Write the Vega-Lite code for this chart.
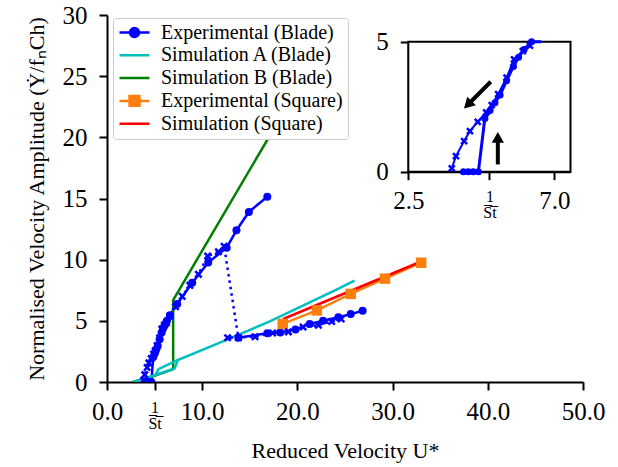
{
  "$schema": "https://vega.github.io/schema/vega-lite/v6.json",
  "width": 476,
  "height": 367,
  "autosize": {"type": "none"},
  "padding": {"left": 107, "top": 15, "right": 35, "bottom": 85},
  "background": "white",
  "config": {
    "view": {"stroke": null},
    "axis": {
      "grid": false,
      "domainColor": "black",
      "domainWidth": 2,
      "tickColor": "black",
      "tickWidth": 2,
      "tickSize": 8,
      "labelFont": "Liberation Serif",
      "labelFontSize": 25,
      "labelColor": "black",
      "titleFont": "Liberation Serif",
      "titleFontSize": 22,
      "titleFontWeight": "normal",
      "titleColor": "black"
    }
  },
  "datasets": {
    "lines": [
      {"series": "Experimental (Blade)", "grp": "up", "seq": 1, "x": 4.2, "y": 0},
      {"series": "Experimental (Blade)", "grp": "up", "seq": 2, "x": 4.35, "y": 0},
      {"series": "Experimental (Blade)", "grp": "up", "seq": 3, "x": 4.5, "y": 0},
      {"series": "Experimental (Blade)", "grp": "up", "seq": 4, "x": 4.66, "y": 0},
      {"series": "Experimental (Blade)", "grp": "up", "seq": 5, "x": 4.86, "y": 2.05},
      {"series": "Experimental (Blade)", "grp": "up", "seq": 6, "x": 5.02, "y": 2.35},
      {"series": "Experimental (Blade)", "grp": "up", "seq": 7, "x": 5.17, "y": 2.65},
      {"series": "Experimental (Blade)", "grp": "up", "seq": 8, "x": 5.33, "y": 2.95},
      {"series": "Experimental (Blade)", "grp": "up", "seq": 9, "x": 5.53, "y": 3.5},
      {"series": "Experimental (Blade)", "grp": "up", "seq": 10, "x": 5.74, "y": 4.05},
      {"series": "Experimental (Blade)", "grp": "up", "seq": 11, "x": 5.9, "y": 4.4},
      {"series": "Experimental (Blade)", "grp": "up", "seq": 12, "x": 6.07, "y": 4.7},
      {"series": "Experimental (Blade)", "grp": "up", "seq": 13, "x": 6.3, "y": 5.0},
      {"series": "Experimental (Blade)", "grp": "up", "seq": 14, "x": 6.6, "y": 5.45},
      {"series": "Experimental (Blade)", "grp": "up", "seq": 15, "x": 7.37, "y": 6.38},
      {"series": "Experimental (Blade)", "grp": "up", "seq": 16, "x": 8.95, "y": 8.12},
      {"series": "Experimental (Blade)", "grp": "up", "seq": 17, "x": 10.63, "y": 9.76},
      {"series": "Experimental (Blade)", "grp": "up", "seq": 18, "x": 12.57, "y": 10.98},
      {"series": "Experimental (Blade)", "grp": "up", "seq": 19, "x": 13.6, "y": 12.4},
      {"series": "Experimental (Blade)", "grp": "up", "seq": 20, "x": 14.9, "y": 13.9},
      {"series": "Experimental (Blade)", "grp": "up", "seq": 21, "x": 16.84, "y": 15.15},
      {"series": "Experimental (Blade)", "grp": "low", "seq": 1, "x": 13.8, "y": 3.62},
      {"series": "Experimental (Blade)", "grp": "low", "seq": 2, "x": 16.84, "y": 3.98},
      {"series": "Experimental (Blade)", "grp": "low", "seq": 3, "x": 18.2, "y": 4.05},
      {"series": "Experimental (Blade)", "grp": "low", "seq": 4, "x": 19.8, "y": 4.3},
      {"series": "Experimental (Blade)", "grp": "low", "seq": 5, "x": 21.3, "y": 4.75},
      {"series": "Experimental (Blade)", "grp": "low", "seq": 6, "x": 22.7, "y": 5.0},
      {"series": "Experimental (Blade)", "grp": "low", "seq": 7, "x": 24.3, "y": 5.3},
      {"series": "Experimental (Blade)", "grp": "low", "seq": 8, "x": 25.6, "y": 5.55},
      {"series": "Experimental (Blade)", "grp": "low", "seq": 9, "x": 26.85, "y": 5.83},
      {"series": "Simulation B (Blade)", "grp": "B", "seq": 1, "x": 2.7, "y": 0},
      {"series": "Simulation B (Blade)", "grp": "B", "seq": 2, "x": 5.0, "y": 0.5},
      {"series": "Simulation B (Blade)", "grp": "B", "seq": 3, "x": 6.95, "y": 1.05},
      {"series": "Simulation B (Blade)", "grp": "B", "seq": 4, "x": 6.95, "y": 6.7},
      {"series": "Simulation B (Blade)", "grp": "B", "seq": 5, "x": 17.45, "y": 20.6},
      {"series": "Simulation A (Blade)", "grp": "A", "seq": 1, "x": 2.8, "y": 0},
      {"series": "Simulation A (Blade)", "grp": "A", "seq": 2, "x": 5.0, "y": 0.55},
      {"series": "Simulation A (Blade)", "grp": "A", "seq": 3, "x": 7.1, "y": 1.1},
      {"series": "Simulation A (Blade)", "grp": "A", "seq": 4, "x": 7.45, "y": 1.8},
      {"series": "Simulation A (Blade)", "grp": "A", "seq": 5, "x": 11.35, "y": 3.05},
      {"series": "Simulation A (Blade)", "grp": "A", "seq": 6, "x": 17.1, "y": 4.95},
      {"series": "Simulation A (Blade)", "grp": "A", "seq": 7, "x": 24.0, "y": 7.52},
      {"series": "Simulation A (Blade)", "grp": "A", "seq": 8, "x": 26.0, "y": 8.28},
      {"series": "Simulation A (Blade)", "grp": "A2", "seq": 1, "x": 5.05, "y": 0.5},
      {"series": "Simulation A (Blade)", "grp": "A2", "seq": 2, "x": 5.4, "y": 1.05},
      {"series": "Simulation A (Blade)", "grp": "A2", "seq": 3, "x": 7.45, "y": 1.8},
      {"series": "Experimental (Square)", "grp": "ES", "seq": 1, "x": 18.46, "y": 4.75},
      {"series": "Experimental (Square)", "grp": "ES", "seq": 2, "x": 22.04, "y": 5.85},
      {"series": "Experimental (Square)", "grp": "ES", "seq": 3, "x": 25.6, "y": 7.2},
      {"series": "Experimental (Square)", "grp": "ES", "seq": 4, "x": 29.2, "y": 8.45},
      {"series": "Experimental (Square)", "grp": "ES", "seq": 5, "x": 33.0, "y": 9.75},
      {"series": "Simulation (Square)", "grp": "SS", "seq": 1, "x": 18.5, "y": 5.15},
      {"series": "Simulation (Square)", "grp": "SS", "seq": 2, "x": 33.0, "y": 9.85}
    ],
    "down": [
      {"seq": 1, "x": 24.6, "y": 5.15},
      {"seq": 2, "x": 23.6, "y": 4.95},
      {"seq": 3, "x": 22.2, "y": 4.65},
      {"seq": 4, "x": 20.6, "y": 4.5},
      {"seq": 5, "x": 19.05, "y": 4.1},
      {"seq": 6, "x": 17.4, "y": 4.0},
      {"seq": 7, "x": 15.55, "y": 3.7},
      {"seq": 8, "x": 12.67, "y": 3.62},
      {"seq": 9, "x": 13.8, "y": 3.62},
      {"seq": 10, "x": 12.3, "y": 11.1},
      {"seq": 11, "x": 11.7, "y": 10.65},
      {"seq": 12, "x": 10.57, "y": 10.3},
      {"seq": 13, "x": 9.6, "y": 8.8},
      {"seq": 14, "x": 8.7, "y": 7.9},
      {"seq": 15, "x": 7.9, "y": 7.0},
      {"seq": 16, "x": 7.2, "y": 6.15},
      {"seq": 17, "x": 6.6, "y": 5.35},
      {"seq": 18, "x": 6.25, "y": 4.85},
      {"seq": 19, "x": 6.03, "y": 4.64},
      {"seq": 20, "x": 5.76, "y": 4.32},
      {"seq": 21, "x": 5.53, "y": 3.62},
      {"seq": 22, "x": 5.27, "y": 2.98},
      {"seq": 23, "x": 5.07, "y": 2.56},
      {"seq": 24, "x": 4.9, "y": 2.28},
      {"seq": 25, "x": 4.64, "y": 1.92},
      {"seq": 26, "x": 4.4, "y": 1.56},
      {"seq": 27, "x": 4.22, "y": 1.18},
      {"seq": 28, "x": 3.97, "y": 0.6},
      {"seq": 29, "x": 3.84, "y": 0.13}
    ],
    "arrows": [
      {"id": "down", "x": 5.04, "y": 3.46, "x2": 4.334, "y2": 2.575},
      {"id": "up", "x": 5.26, "y": 0.28, "x2": 5.26, "y2": 1.32}
    ],
    "frame": [
      {"x": 2.5, "x2": 7.5, "y": 0, "y2": 5}
    ]
  },
  "layer": [
    {
      "encoding": {
        "x": {
          "field": "x", "type": "quantitative",
          "scale": {"domain": [0, 50], "nice": false, "zero": false},
          "axis": {
            "orient": "bottom",
            "values": [0, 5, 10, 20, 30, 40, 50],
            "labelExpr": "datum.value == 5 ? ['1', 'S̅t̅'] : format(datum.value, '.1f')",
            "labelFontSize": {"condition": {"test": "datum.value == 5", "value": 16}, "value": 25},
            "labelLineHeight": 16,
            "labelPadding": 9,
            "labelFlush": false,
            "labelOverlap": false,
            "title": "Reduced Velocity U*",
            "titleBaseline": "alphabetic",
            "titleX": 238,
            "titleY": 75
          }
        },
        "y": {
          "field": "y", "type": "quantitative",
          "scale": {"domain": [0, 30], "nice": false, "zero": false},
          "axis": {
            "orient": "left",
            "values": [0, 5, 10, 15, 20, 25, 30],
            "format": "d",
            "labelPadding": 12,
            "labelFlush": false,
            "labelOverlap": false,
            "title": "Normalised Velocity Amplitude (Ẏ/fₙCh)",
            "titleBaseline": "alphabetic",
            "titleAngle": -90,
            "titleX": -64,
            "titleY": 183.5
          }
        }
      },
      "layer": [
        {
          "data": {"name": "lines"},
          "mark": {"type": "line", "strokeWidth": 2.5, "clip": true},
          "encoding": {
            "color": {
              "field": "series", "type": "nominal",
              "scale": {
                "domain": ["Experimental (Blade)", "Simulation A (Blade)", "Simulation B (Blade)", "Experimental (Square)", "Simulation (Square)"],
                "range": ["#0000ff", "#00bfbf", "#008000", "#ff7f0e", "#ff0000"]
              },
              "legend": {
                "orient": "none",
                "legendX": 6,
                "legendY": 3,
                "title": null,
                "labelFont": "Liberation Serif",
                "labelFontSize": 20,
                "labelLimit": 400,
                "labelColor": "black",
                "labelOffset": 10,
                "symbolSize": 900,
                "symbolStrokeWidth": 2.5,
                "symbolOffset": 0,
                "clipHeight": 19,
                "rowPadding": 1.8,
                "padding": 5,
                "strokeColor": "#cccccc",
                "fillColor": "white",
                "cornerRadius": 3,
                "encode": {
                  "symbols": {
                    "update": {
                      "shape": {"signal": "datum.value === 'Experimental (Blade)' ? 'M-1,0H1M0.3,0A0.3,0.3,0,1,1,-0.3,0A0.3,0.3,0,1,1,0.3,0Z' : datum.value === 'Experimental (Square)' ? 'M-1,0H1M-0.33,-0.33H0.33V0.33H-0.33Z' : 'M-1,0H1'"},
                      "fill": {"signal": "datum.value === 'Experimental (Blade)' ? '#0000ff' : datum.value === 'Simulation A (Blade)' ? '#00bfbf' : datum.value === 'Simulation B (Blade)' ? '#008000' : datum.value === 'Experimental (Square)' ? '#ff7f0e' : '#ff0000'"},
                      "stroke": {"signal": "datum.value === 'Experimental (Blade)' ? '#0000ff' : datum.value === 'Simulation A (Blade)' ? '#00bfbf' : datum.value === 'Simulation B (Blade)' ? '#008000' : datum.value === 'Experimental (Square)' ? '#ff7f0e' : '#ff0000'"},
                      "strokeWidth": {"value": 2.5},
                      "opacity": {"value": 1}
                    }
                  }
                }
              }
            },
            "detail": {"field": "grp", "type": "nominal"},
            "order": {"field": "seq", "type": "quantitative"}
          }
        },
        {
          "data": {"name": "lines"},
          "transform": [{"filter": "datum.series == 'Experimental (Blade)'"}],
          "mark": {"type": "point", "shape": "circle", "filled": true, "size": 64, "color": "#0000ff", "opacity": 1, "clip": true}
        },
        {
          "data": {"name": "lines"},
          "transform": [{"filter": "datum.series == 'Experimental (Square)'"}],
          "mark": {"type": "point", "shape": "square", "filled": true, "size": 110, "color": "#ff7f0e", "opacity": 1, "clip": true}
        },
        {
          "data": {"name": "down"},
          "mark": {"type": "line", "color": "#0000ff", "strokeWidth": 2.5, "strokeDash": [2.5, 4], "clip": true},
          "encoding": {"order": {"field": "seq", "type": "quantitative"}}
        },
        {
          "data": {"name": "down"},
          "mark": {"type": "point", "shape": "M-1,-1L1,1M-1,1L1,-1", "filled": false, "size": 40, "strokeWidth": 2.5, "color": "#0000ff", "opacity": 1, "clip": true}
        }
      ]
    },
    {
      "encoding": {
        "x": {
          "field": "x", "type": "quantitative",
          "scale": {"domain": [2.5, 7.5], "range": [301.3, 463.5], "clamp": true, "nice": false, "zero": false},
          "axis": {
            "orient": "bottom",
            "offset": -210.3,
            "values": [2.5, 5, 7],
            "labelExpr": "datum.value == 5 ? ['1', 'S̅t̅'] : format(datum.value, '.1f')",
            "labelFontSize": {"condition": {"test": "datum.value == 5", "value": 16}, "value": 25},
            "labelLineHeight": 16,
            "labelPadding": 9,
            "labelFlush": false,
            "labelOverlap": false,
            "title": null
          }
        },
        "y": {
          "field": "y", "type": "quantitative",
          "scale": {"domain": [0, 5], "range": [156.7, 26.7], "clamp": true, "nice": false, "zero": false},
          "axis": {
            "orient": "left",
            "offset": -301.3,
            "values": [0, 5],
            "format": "d",
            "labelPadding": 12,
            "labelFlush": false,
            "labelOverlap": false,
            "title": null
          }
        }
      },
      "layer": [
        {
          "data": {"name": "frame"},
          "mark": {"type": "rect", "fill": "white", "stroke": "black", "strokeWidth": 2},
          "encoding": {"x2": {"field": "x2"}, "y2": {"field": "y2"}}
        },
        {
          "data": {"name": "lines"},
          "transform": [{"filter": "datum.grp == 'up' && datum.x <= 6.7"}],
          "mark": {"type": "line", "color": "#0000ff", "strokeWidth": 3},
          "encoding": {"order": {"field": "seq", "type": "quantitative"}}
        },
        {
          "data": {"name": "lines"},
          "transform": [{"filter": "datum.grp == 'up' && datum.x <= 6.5"}],
          "mark": {"type": "point", "shape": "circle", "filled": true, "size": 50, "color": "#0000ff", "opacity": 1}
        },
        {
          "data": {"name": "down"},
          "transform": [{"filter": "datum.y <= 5 && datum.x <= 7"}],
          "mark": {"type": "line", "color": "#0000ff", "strokeWidth": 2},
          "encoding": {"order": {"field": "seq", "type": "quantitative"}}
        },
        {
          "data": {"name": "down"},
          "transform": [{"filter": "datum.y <= 5 && datum.x <= 7"}],
          "mark": {"type": "point", "shape": "M-1,-1L1,1M-1,1L1,-1", "filled": false, "size": 36, "strokeWidth": 2.5, "color": "#0000ff", "opacity": 1}
        },
        {
          "data": {"name": "arrows"},
          "mark": {"type": "rule", "color": "black", "strokeWidth": 4},
          "encoding": {"x2": {"field": "x2"}, "y2": {"field": "y2"}}
        },
        {
          "data": {"name": "arrows"},
          "transform": [{"filter": "datum.id == 'down'"}],
          "mark": {"type": "point", "shape": "triangle-up", "filled": true, "size": 150, "angle": 225, "color": "black", "opacity": 1},
          "encoding": {"x": {"field": "x2", "type": "quantitative"}, "y": {"field": "y2", "type": "quantitative"}}
        },
        {
          "data": {"name": "arrows"},
          "transform": [{"filter": "datum.id == 'up'"}],
          "mark": {"type": "point", "shape": "triangle-up", "filled": true, "size": 150, "angle": 0, "color": "black", "opacity": 1},
          "encoding": {"x": {"field": "x2", "type": "quantitative"}, "y": {"field": "y2", "type": "quantitative"}}
        }
      ]
    }
  ],
  "resolve": {
    "scale": {"x": "independent", "y": "independent"},
    "axis": {"x": "independent", "y": "independent"}
  }
}
